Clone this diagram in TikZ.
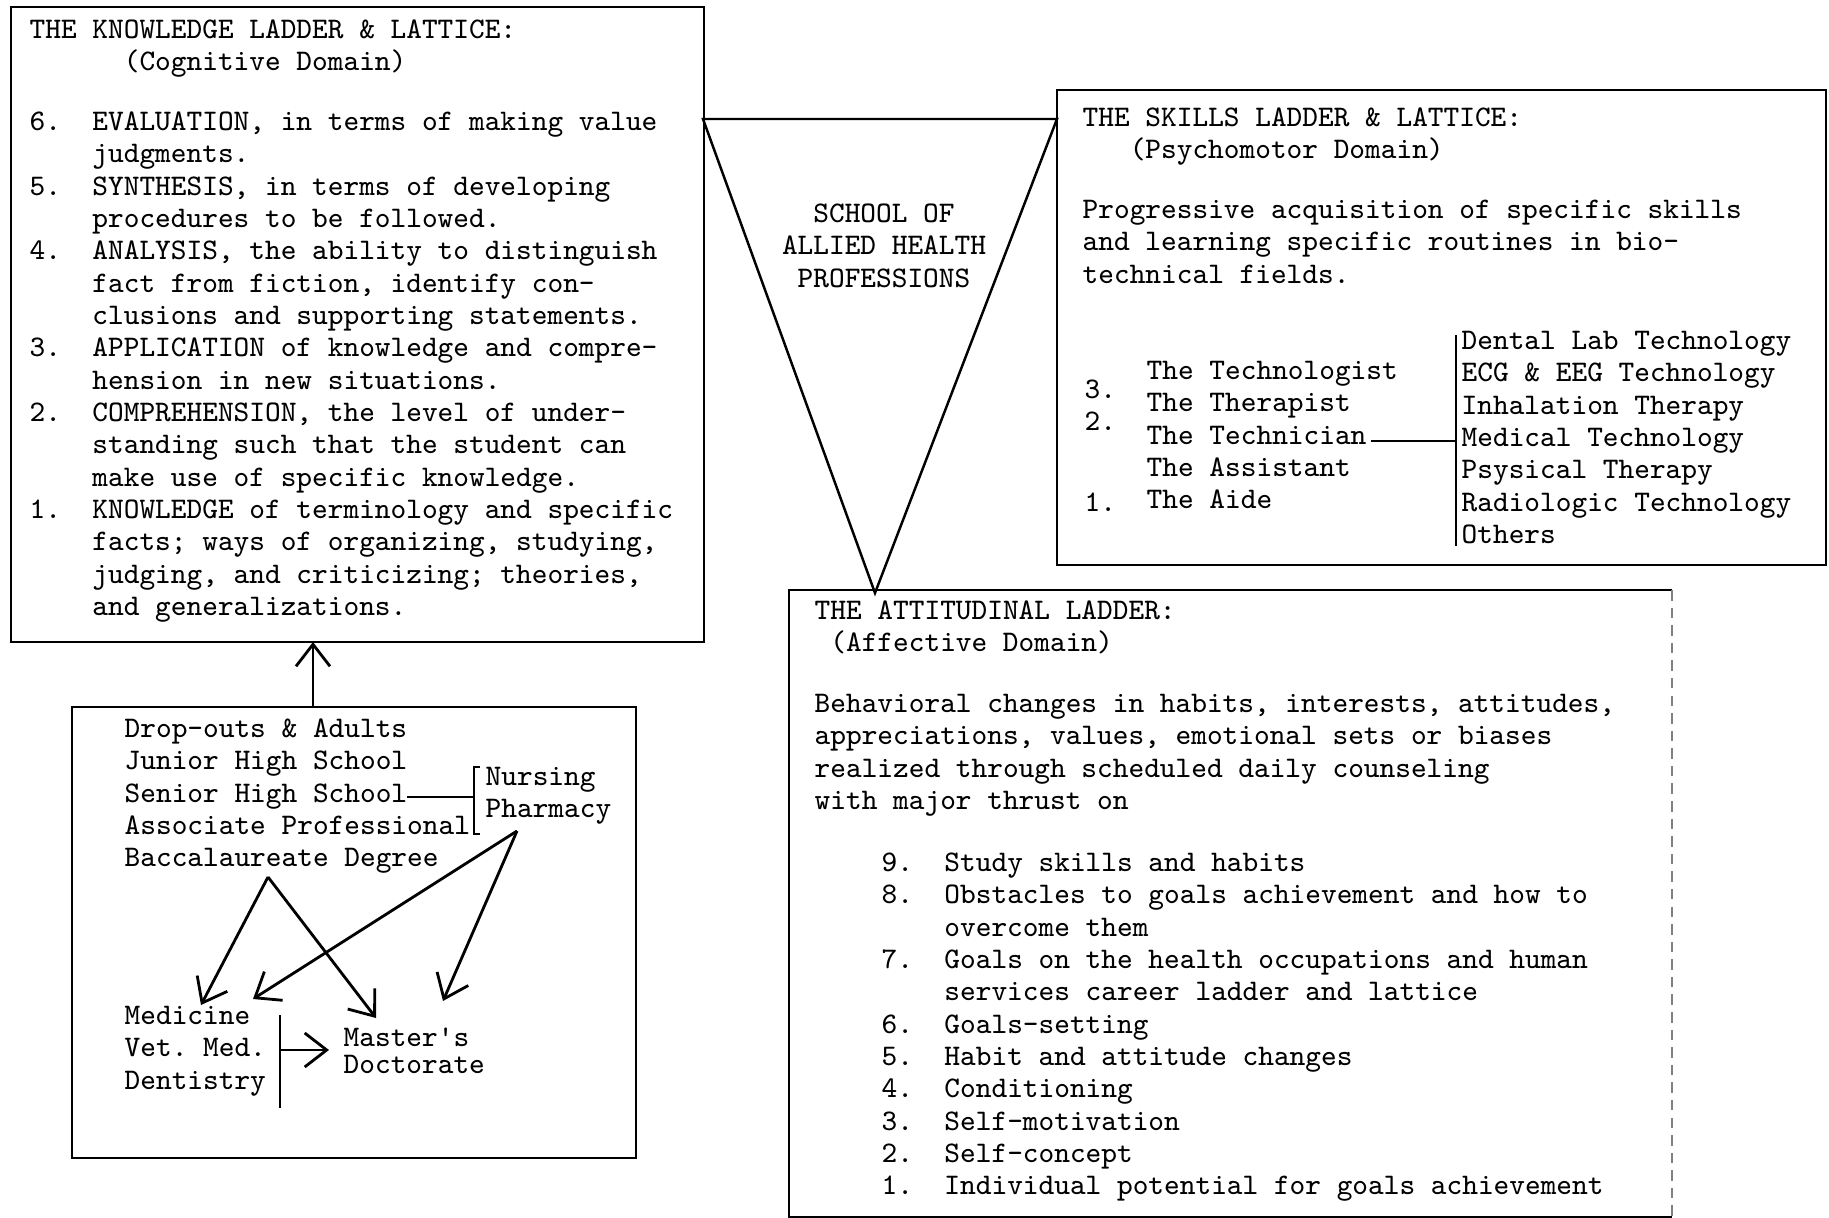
\documentclass[tikz,border=0pt]{standalone}
\usepackage{fontspec}
\usepackage{tikz}
\usetikzlibrary{arrows.meta,positioning,calc}
\newcommand{\lvl}[1]{\makebox[2.1em][l]{#1}}

\begin{document}
\begin{tikzpicture}
[x=0.01cm,y=-0.01cm,
txt/.style={font=\fontsize{8.5}{9.2}\selectfont\ttfamily\frenchspacing,align=left,inner sep=0pt,anchor=north west},
one/.style={font=\fontsize{8.5}{9.2}\selectfont\ttfamily\frenchspacing,inner sep=0pt,anchor=base west},
frame/.style={line width=0.7pt},
arr/.style={line width=0.8pt,-{Straight Barb[length=2.2mm,width=3.4mm]}}]
\useasboundingbox (0,0) rectangle (1829,1218);

% cognitive box
\draw[frame] (11,7) rectangle (704,642);
\node (ktitle) at (29,15) [txt] {\strut THE KNOWLEDGE LADDER \& LATTICE:\\
\hspace*{3.15em}(Cognitive Domain)};
\node (klist) at (29,107) [txt] {\strut\lvl{6.}EVALUATION, in terms of making value\\
\lvl{}judgments.\\
\lvl{5.}SYNTHESIS, in terms of developing\\
\lvl{}procedures to be followed.\\
\lvl{4.}ANALYSIS, the ability to distinguish\\
\lvl{}fact from fiction, identify con-\\
\lvl{}clusions and supporting statements.\\
\lvl{3.}APPLICATION of knowledge and compre-\\
\lvl{}hension in new situations.\\
\lvl{2.}COMPREHENSION, the level of under-\\
\lvl{}standing such that the student can\\
\lvl{}make use of specific knowledge.\\
\lvl{1.}KNOWLEDGE of terminology and specific\\
\lvl{}facts; ways of organizing, studying,\\
\lvl{}judging, and criticizing; theories,\\
\lvl{}and generalizations.};

% school triangle
\draw[frame] (703,119) -- (1057,119) -- (875,593) -- cycle;
\node (school) at (884,199) [txt,align=center,anchor=north] {\strut SCHOOL OF\\ALLIED HEALTH\\PROFESSIONS};

% psychomotor box
\draw[frame] (1057,90) rectangle (1826,565);
\node (stitle) at (1082,103) [txt] {\strut THE SKILLS LADDER \& LATTICE:\\
\hspace*{1.575em}(Psychomotor Domain)};
\node (spara) at (1082,195) [txt] {\strut Progressive acquisition of specific skills\\
and learning specific routines in bio-\\
technical fields.};
\node (sranks) at (1146,356) [txt] {\strut The Technologist\\The Therapist\\The Technician\\The Assistant\\The Aide};
\node (s3) at (1084,398) [one] {3.};
\node (s2) at (1084,430) [one] {2.};
\node (s1) at (1084,511) [one] {1.};
\node (sfields) at (1461,326) [txt] {\strut Dental Lab Technology\\
ECG \& EEG Technology\\
Inhalation Therapy\\
Medical Technology\\
Psysical Therapy\\
Radiologic Technology\\
Others};
\coordinate (techend) at (1371,441);
\coordinate (fieldbar) at (1456,441);
\draw[frame] (1456,335) -- (1456,546);
\draw[frame] (techend) -- (fieldbar);

% affective box
\draw[frame] (1672,590) -- (789,590) -- (789,1217) -- (1672,1217);
\draw[frame,densely dashed,gray] (1672,590) -- (1672,1217);
\node (atitle) at (814,596) [txt] {\strut THE ATTITUDINAL LADDER:\\
\hspace*{0.525em}(Affective Domain)};
\node (apara) at (814,689) [txt] {\strut Behavioral changes in habits, interests, attitudes,\\
appreciations, values, emotional sets or biases\\
realized through scheduled daily counseling\\
with major thrust on};
\node (alist) at (881,848) [txt] {\strut\lvl{9.}Study skills and habits\\
\lvl{8.}Obstacles to goals achievement and how to\\
\lvl{}overcome them\\
\lvl{7.}Goals on the health occupations and human\\
\lvl{}services career ladder and lattice\\
\lvl{6.}Goals-setting\\
\lvl{5.}Habit and attitude changes\\
\lvl{4.}Conditioning\\
\lvl{3.}Self-motivation\\
\lvl{2.}Self-concept\\
\lvl{1.}Individual potential for goals achievement};

% entry box
\draw[frame] (72,707) rectangle (636,1158);
\coordinate (gtop) at (313,707);
\coordinate (kbot) at (313,642);
\draw[arr] (gtop) -- (kbot);
\node (grades) at (124,714) [txt] {\strut Drop-outs \& Adults\\
Junior High School\\
Senior High School\\
Associate Professional\\
Baccalaureate Degree};
\node (nurs) at (485,762) [txt] {\strut Nursing\\Pharmacy};
\draw[frame] (480,767) -- (474,767) -- (474,834) -- (480,834);
\coordinate (senend) at (407,797);
\coordinate (brk) at (474,797);
\draw[frame] (senend) -- (brk);
\node (prof) at (124,1001) [txt] {\strut Medicine\\Vet. Med.\\Dentistry};
\node (mast) at (343,1046) [one] {Master's};
\node (doct) at (343,1073) [one] {Doctorate};
\draw[frame] (280,1015) -- (280,1108);
\coordinate (profbar) at (280,1050);
\coordinate (gradin) at (329,1050);
\draw[arr] (profbar) -- (gradin);

\coordinate (baccft) at (268,877);
\coordinate (pharmft) at (517,831);
\coordinate (med1) at (201,1005);
\coordinate (med2) at (253,999);
\coordinate (mast1) at (376,1018);
\coordinate (mast2) at (443,1001);
\draw[arr] (baccft) -- (med1);
\draw[arr] (baccft) -- (mast1);
\draw[arr] (pharmft) -- (med2);
\draw[arr] (pharmft) -- (mast2);

\end{tikzpicture}
\end{document}
